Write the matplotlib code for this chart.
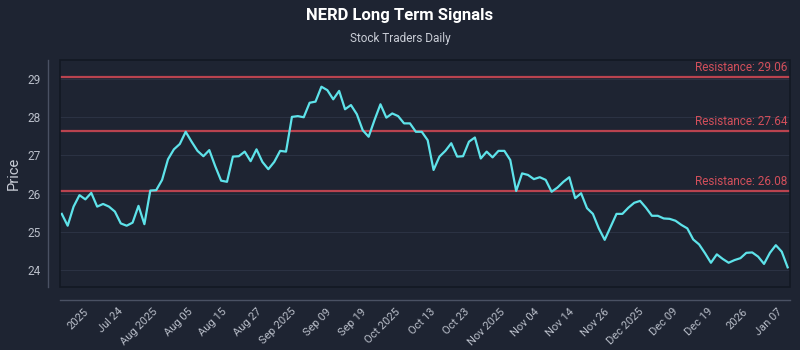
import numpy as np
import matplotlib
matplotlib.use("Agg")
import matplotlib.pyplot as plt
from matplotlib.patches import Rectangle

plt.rcParams['font.family'] = ['Liberation Sans Narrow', 'Roboto', 'DejaVu Sans']

# closing prices (one per trading day)
prices = [
    25.47, 25.16, 25.66, 25.96, 25.85, 26.02, 25.66, 25.73, 25.66, 25.53,
    25.22, 25.16, 25.24, 25.68, 25.20, 26.08, 26.09, 26.36, 26.90, 27.16,
    27.30, 27.62, 27.36, 27.12, 26.98, 27.14, 26.72, 26.34, 26.31, 26.97,
    26.98, 27.10, 26.85, 27.16, 26.83, 26.64, 26.83, 27.12, 27.10, 28.01,
    28.03, 28.00, 28.38, 28.41, 28.80, 28.71, 28.47, 28.69, 28.21, 28.32,
    28.08, 27.66, 27.49, 27.93, 28.34, 27.99, 28.10, 28.03, 27.84, 27.84,
    27.62, 27.62, 27.40, 26.62, 26.97, 27.12, 27.32, 26.97, 26.98, 27.36,
    27.47, 26.92, 27.10, 26.95, 27.12, 27.12, 26.88, 26.07, 26.53, 26.49,
    26.38, 26.43, 26.36, 26.05, 26.16, 26.31, 26.43, 25.88, 26.01, 25.62,
    25.47, 25.09, 24.79, 25.13, 25.47, 25.47, 25.63, 25.76, 25.81, 25.63,
    25.42, 25.42, 25.35, 25.34, 25.29, 25.18, 25.09, 24.80, 24.67, 24.44,
    24.19, 24.41, 24.29, 24.19, 24.26, 24.31, 24.45, 24.46, 24.35, 24.16,
    24.45, 24.65, 24.48, 24.07,
]

resistance = [29.06, 27.64, 26.08]

tick_labels = [
    "2025", "Jul 24", "Aug 2025", "Aug 05", "Aug 15", "Aug 27", "Sep 2025",
    "Sep 09", "Sep 19", "Oct 2025", "Oct 13", "Oct 23", "Nov 2025", "Nov 04",
    "Nov 14", "Nov 26", "Dec 2025", "Dec 09", "Dec 19", "2026", "Jan 07",
]

BG = "#1e2432"
TXT = "#b9bec9"

fig = plt.figure(figsize=(8, 3.5), dpi=100, facecolor=BG)
ax = fig.add_axes([0.075, 0.18, 0.9125, 0.6486])
ax.set_facecolor(BG)

# spines first: moving them resets the ticks
for s in ["top", "right"]:
    ax.spines[s].set_visible(False)
for s in ["left", "bottom"]:
    ax.spines[s].set_position(("outward", 9))
    ax.spines[s].set_color("#4a5163")
    ax.spines[s].set_linewidth(1)

x = np.arange(len(prices))
ax.plot(x, prices, color="#5ee3ea", lw=1.6, zorder=3)

for r in resistance:
    ax.axhline(r, color="#b9434f", lw=1.6, zorder=2)
    ax.annotate(f"Resistance: {r:.2f}", xy=(0.996, r), xycoords=("axes fraction", "data"),
                xytext=(0, 2), textcoords="offset points", ha="right", va="bottom",
                color="#d24f5b", fontsize=8.5)

ax.set_xlim(-0.3, len(prices) - 0.6)
ax.set_ylim(23.555, 29.5)
ax.set_yticks([24, 25, 26, 27, 28, 29])
ax.yaxis.grid(True, color="#2b3243", lw=0.8)
ax.set_axisbelow(True)

ax.tick_params(axis="both", length=0, colors=TXT, labelsize=8.5)
ax.tick_params(axis="x", pad=5, labelrotation=45, labelsize=8)
ax.tick_params(axis="y", pad=5)
ax.set_xticks(np.linspace(3.6, 121.2, len(tick_labels)))
ax.set_xticklabels(tick_labels)
for lab in ax.get_xticklabels():
    lab.set_ha("right")
    lab.set_va("top")
    lab.set_rotation_mode("anchor")

# dark frame around the plotting area
ax.add_patch(Rectangle((0, 0), 1, 1, transform=ax.transAxes, fill=False,
                       edgecolor="#131823", lw=1.2, clip_on=False, zorder=4))

ax.set_ylabel("Price", color="#c9cdd6", fontsize=10.5, labelpad=5)

fig.text(0.5, 0.955, "NERD Long Term Signals", ha="center", va="center",
         color="white", fontsize=12, fontweight="bold")
fig.text(0.5, 0.89, "Stock Traders Daily", ha="center", va="center",
         color="#c9cdd6", fontsize=8.5)

fig.savefig("out.png", dpi=100, facecolor=BG)
